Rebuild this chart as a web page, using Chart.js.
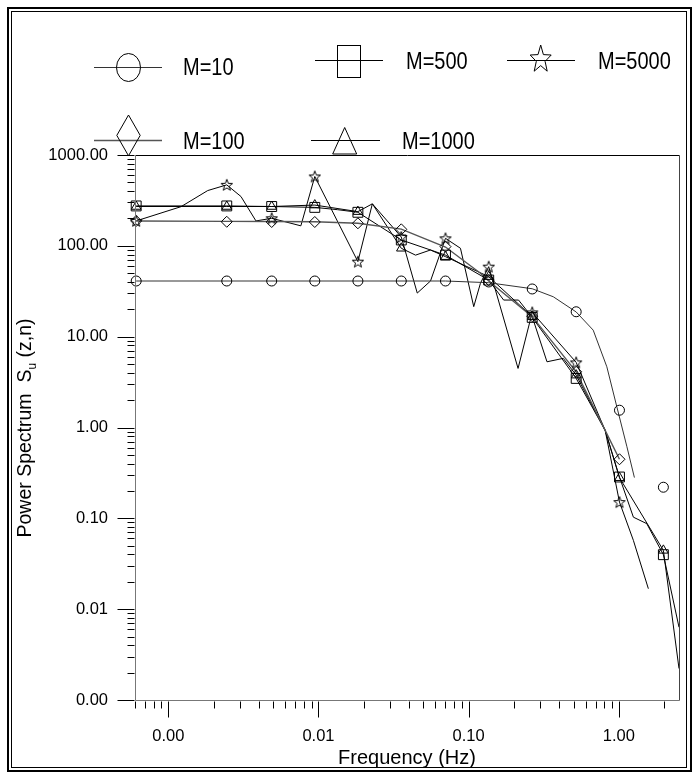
<!DOCTYPE html>
<html>
<head>
<meta charset="utf-8">
<script src="https://cdn.jsdelivr.net/npm/chart.js@4/dist/chart.umd.min.js"></script>
<style>
html,body{margin:0;padding:0;background:#fff;}
#wrap{position:relative;width:693px;height:772px;font-family:"Liberation Sans",Arial,sans-serif;color:#000;overflow:hidden;}
#c{position:absolute;left:0;top:0;}
.frame1{position:absolute;left:7px;top:7px;width:685px;height:765px;border:2px solid #000;box-sizing:border-box;}
.frame2{position:absolute;left:11px;top:11px;width:676px;height:757px;border:1px solid #000;box-sizing:border-box;}
.lg{position:absolute;font-size:20px;line-height:20px;transform:translateY(-50%) scaleY(1.15);white-space:nowrap;}
#yt{position:absolute;left:28px;top:427.5px;transform:translate(-50%,-50%) rotate(-90deg);font-size:19.5px;line-height:20px;white-space:nowrap;}
#yt sub{font-size:12px;vertical-align:-5px;}
#lgsvg{position:absolute;left:0;top:0;}
</style>
</head>
<body>
<div id="wrap">
  <canvas id="c" width="693" height="772"></canvas>
  <svg id="lgsvg" width="693" height="170"></svg>
  <div class="lg" style="left:183px;top:67px;">M=10</div>
  <div class="lg" style="left:406px;top:61px;">M=500</div>
  <div class="lg" style="left:598px;top:61px;">M=5000</div>
  <div class="lg" style="left:183px;top:141px;">M=100</div>
  <div class="lg" style="left:402px;top:141px;">M=1000</div>
  <div id="yt">Power Spectrum&nbsp;&nbsp;S<sub>u</sub> (z,n)</div>
  <div class="frame1"></div>
  <div class="frame2"></div>
</div>
<script>
// ---------- DATA ----------
const seriesNames = ["M=10", "M=100", "M=500", "M=1000", "M=5000"];
const markerFreq = [0.000611, 0.00245, 0.00488, 0.00945, 0.0183, 0.0356, 0.0701, 0.136, 0.265, 0.520, 1.01, 1.98];
const m10Marks   = [41, 41, 41, 41, 41, 41, 41, 40, 33.5, 18.8, 1.55, 0.22];
const m100Marks  = [188, 184, 183, 183, 177, 152, 98, 42, 16.8, 4.1, 0.447, null];
const m500Marks  = [275, 275, 271, 265, 234, 116, 79, 42, 16.3, 3.47, 0.285, 0.0398];
const m1000Marks = [271, 271, 271, 281, 238, 94, 76, 45.8, 16.6, 3.77, 0.28, 0.0444];
const m5000Marks = [188, 469, 201, 580, 67, 125, 121, 59, 18.5, 5.21, 0.151, null];

const m10LineF = [0.000611, 0.0701, 0.1354, 0.265, 0.366, 0.520, 0.675, 0.832, 0.970, 1.13, 1.27];
const m10LineV = [41, 41, 39.3, 33.7, 27.5, 18.7, 11.8, 4.66, 1.69, 0.622, 0.281];

const m100LineF = [0.000611, 0.00245, 0.00488, 0.00945, 0.0183, 0.0356, 0.0701, 0.1198, 0.136, 0.265, 0.520, 0.811, 1.01];
const m100LineV = [188, 186, 185, 184, 177, 153, 97, 50, 41, 16.6, 4.1, 0.93, 0.447];

const m500LineF = [0.000611, 0.00245, 0.00488, 0.00945, 0.0134, 0.0183, 0.0356, 0.0701, 0.136, 0.171, 0.215, 0.265, 0.520, 0.811, 1.01, 1.25, 1.535, 1.98, 2.516];
const m500LineV = [275, 275, 271, 265, 250, 234, 116, 79, 42, 25.3, 25.3, 16.3, 3.47, 0.93, 0.285, 0.103, 0.0874, 0.0398, 0.00633];

const m1000LineF = [0.000611, 0.00245, 0.00488, 0.00945, 0.0183, 0.02284, 0.0356, 0.0443, 0.0557, 0.0701, 0.136, 0.265, 0.3324, 0.4265, 0.520, 0.811, 1.01, 1.98, 2.516];
const m1000LineV = [271, 271, 271, 281, 238, 290, 94, 79, 90, 76, 45.8, 16.6, 5.29, 5.77, 3.77, 0.93, 0.28, 0.0444, 0.00222];

const m5000LineF = [0.000611, 0.001216, 0.00183, 0.00245, 0.003047, 0.003833, 0.00488, 0.00763, 0.00945, 0.0183, 0.02284, 0.0356, 0.04547, 0.0557, 0.0701, 0.0882, 0.1081, 0.1198, 0.136, 0.2133, 0.265, 0.520, 0.811, 1.01, 1.25, 1.573];
const m5000LineV = [188, 270, 406, 469, 349, 188, 201, 166, 580, 67, 290, 125, 30.2, 41, 121, 94, 21.4, 38.7, 59, 4.47, 18.5, 5.21, 0.93, 0.151, 0.0572, 0.0168];

const xMin = 0.000611, xMax = 2.516;
const yMin = 0.001, yMax = 1000;
const xTitle = "Frequency (Hz)";

// ---------- HELPERS ----------
function pairs(fs, vs){ const out=[]; for(let i=0;i<fs.length;i++){ if(vs[i]!=null) out.push({x:fs[i], y:vs[i]}); } return out; }
function starCanvas(size){
  const c=document.createElement('canvas'); c.width=c.height=size;
  const g=c.getContext('2d'); g.strokeStyle='#000'; g.lineWidth=1;
  const cx=size/2, cy=size/2+0.5, R=size/2-1, r=R*0.42;
  g.beginPath();
  for(let i=0;i<10;i++){ const a=-Math.PI/2+i*Math.PI/5; const rr=i%2?r:R; g.lineTo(cx+rr*Math.cos(a), cy+rr*Math.sin(a)); }
  g.closePath(); g.stroke(); return c;
}
function nice(v){ const e=Math.floor(Math.log10(v)+1e-9); const m=v/Math.pow(10,e); const mr=Math.round(m); return Math.abs(m-mr)<1e-6 ? mr : 0; }
function decadeLabel(v){ const l=Math.log10(v); return Math.abs(l-Math.round(l))<1e-6 ? Number(v).toFixed(2) : ''; }

const star = starCanvas(14);
function lineDs(f,v,color,w){ return {type:'line', data:pairs(f,v), borderColor:color, borderWidth:w, pointRadius:0, tension:0, fill:false, clip:false}; }
function markDs(v,style,r){ return {type:'line', data:pairs(markerFreq,v), showLine:false, pointStyle:style, pointRadius:r, pointHoverRadius:r, pointBorderColor:'#000', pointBackgroundColor:'rgba(0,0,0,0)', pointBorderWidth:1, clip:false}; }

const axisPlugin = {
  id:'axisDraw',
  afterDraw(chart){
    const ctx=chart.ctx, a=chart.chartArea, xs=chart.scales.x, ys=chart.scales.y;
    ctx.save();
    ctx.lineWidth=1;
    const L=Math.round(a.left)+0.5, R=Math.round(a.right)+0.5, T=Math.round(a.top)+0.5, B=Math.round(a.bottom)+0.5;
    ctx.strokeStyle='#000';
    ctx.beginPath(); ctx.moveTo(L,T); ctx.lineTo(R,T); ctx.stroke();
    ctx.strokeStyle='#444';
    ctx.beginPath(); ctx.moveTo(R,T); ctx.lineTo(R,B); ctx.stroke();
    ctx.strokeStyle='#777';
    ctx.beginPath(); ctx.moveTo(L,T); ctx.lineTo(L,B); ctx.lineTo(R,B); ctx.stroke();
    ctx.strokeStyle='#000';
    ys.ticks.forEach(t=>{ const m=nice(t.value); if(!m) return; const y=Math.round(ys.getPixelForValue(t.value))+0.5; const len=m===1?18:8; ctx.beginPath(); ctx.moveTo(L-len,y); ctx.lineTo(L-1,y); ctx.stroke(); });
    xs.ticks.forEach(t=>{ const m=nice(t.value); if(!m) return; const x=Math.round(xs.getPixelForValue(t.value))+0.5; const len=m===1?17:8; ctx.beginPath(); ctx.moveTo(x,B+1); ctx.lineTo(x,B+len); ctx.stroke(); });
    ctx.restore();
  }
};

Chart.defaults.font.family='"Liberation Sans", Arial, sans-serif';
Chart.defaults.font.size=16;
Chart.defaults.color='#000';

new Chart(document.getElementById('c'), {
  type:'line',
  data:{ datasets:[
    markDs(m10Marks,'circle',5),
    markDs(m100Marks,'rectRot',5.5),
    markDs(m500Marks,'rect',7),
    markDs(m1000Marks,'triangle',5.5),
    markDs(m5000Marks,star,7),
    lineDs(m10LineF,m10LineV,'#333',1),
    lineDs(m100LineF,m100LineV,'#555',1.4),
    lineDs(m500LineF,m500LineV,'#000',1),
    lineDs(m1000LineF,m1000LineV,'#000',1),
    lineDs(m5000LineF,m5000LineV,'#000',1)
  ]},
  options:{
    responsive:false, animation:false, devicePixelRatio:1,
    layout:{padding:{left:0, top:155, right:14, bottom:0}},
    plugins:{legend:{display:false}, tooltip:{enabled:false}},
    scales:{
      x:{type:'logarithmic', min:xMin, max:xMax, position:'bottom',
         grid:{display:false, drawTicks:false}, border:{display:false},
         ticks:{autoSkip:false, maxRotation:0, padding:27, callback:(v)=>decadeLabel(v), font:{size:16.5}},
         title:{display:true, text:xTitle, font:{size:20}, padding:{top:0,bottom:2}},
         afterFit:(s)=>{ s.height=72; s.paddingLeft=0; s.paddingRight=0; }},
      y:{type:'logarithmic', min:yMin, max:yMax, position:'left',
         grid:{display:false, drawTicks:false}, border:{display:false},
         ticks:{autoSkip:false, padding:27, callback:(v)=>decadeLabel(v), font:{size:16.5}},
         afterFit:(s)=>{ s.width=135; s.paddingTop=0; s.paddingBottom=0; }}
    }
  },
  plugins:[axisPlugin]
});

// ---------- LEGEND ICONS ----------
(function(){
  const svg=document.getElementById('lgsvg');
  const NS='http://www.w3.org/2000/svg';
  function el(tag, attrs){ const e=document.createElementNS(NS,tag); for(const k in attrs) e.setAttribute(k,attrs[k]); svg.appendChild(e); return e; }
  const base={fill:'none', stroke:'#000', 'stroke-width':1};
  el('line',{x1:94,y1:67.5,x2:162,y2:67.5,stroke:'#333','stroke-width':1});
  el('ellipse',Object.assign({cx:128.5,cy:67.5,rx:12,ry:14},base));
  el('line',{x1:315,y1:60.5,x2:383,y2:60.5,stroke:'#000','stroke-width':1});
  el('rect',Object.assign({x:337.5,y:45.5,width:23,height:32},base));
  el('line',{x1:507,y1:60.5,x2:575,y2:60.5,stroke:'#000','stroke-width':1});
  let pts=[]; const cx=540.7, cy=59.5, Rx=11, Ry=14.5;
  for(let i=0;i<10;i++){ const a=-Math.PI/2+i*Math.PI/5; const k=i%2?0.42:1; pts.push((cx+Rx*k*Math.cos(a)).toFixed(1)+','+(cy+Ry*k*Math.sin(a)).toFixed(1)); }
  el('polygon',Object.assign({points:pts.join(' ')},base));
  el('line',{x1:94,y1:140.5,x2:162,y2:140.5,stroke:'#555','stroke-width':1.4});
  el('polygon',Object.assign({points:'128.5,115 140.2,135.4 128.5,155.8 116.8,135.4'},base));
  el('line',{x1:311,y1:140.5,x2:380,y2:140.5,stroke:'#000','stroke-width':1});
  el('polygon',Object.assign({points:'344.7,127.5 356.7,154 332.7,154'},base));
})();
</script>
</body>
</html>
